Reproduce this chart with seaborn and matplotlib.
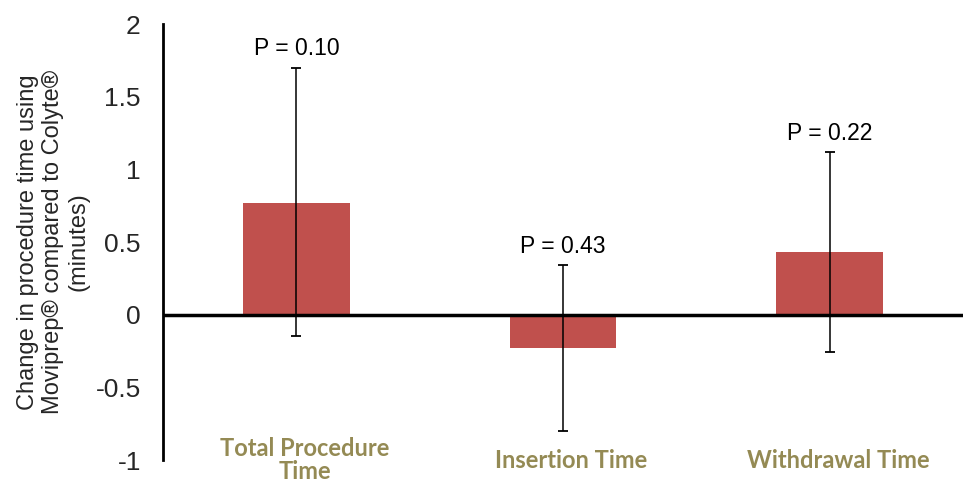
import matplotlib
matplotlib.use("Agg")
import matplotlib.pyplot as plt
import seaborn as sns
import pandas as pd
import numpy as np

categories = ["Total Procedure\nTime", "Insertion Time", "Withdrawal Time"]
mean_change = [0.77, -0.23, 0.43]
ci_lower = [-0.15, -0.80, -0.26]
ci_upper = [1.70, 0.34, 1.12]
p_labels = ["P = 0.10", "P = 0.43", "P = 0.22"]
y_ticks = [-1, -0.5, 0, 0.5, 1, 1.5, 2]
y_tick_labels = ["-1", "-0.5", "0", "0.5", "1", "1.5", "2"]
y_label = "Change in procedure time using\nMoviprep® compared to Colyte®\n(minutes)"

sns.set_style("white")
plt.rcParams['font.family'] = ['Liberation Sans', 'DejaVu Sans']

fig = plt.figure(figsize=(9.64, 4.87), dpi=100)
ax = fig.add_axes([163/964, 27/487, 800/964, 436/487])

df = pd.DataFrame({"cat": categories, "val": mean_change})
sns.barplot(data=df, x="cat", y="val", color="#C0504D", saturation=1,
            width=0.4, ax=ax, errorbar=None, edgecolor="none")

x = np.arange(len(categories))
means = np.array(mean_change)
yerr = [means - np.array(ci_lower), np.array(ci_upper) - means]
ax.errorbar(x, means, yerr=yerr, fmt="none", ecolor="black",
            elinewidth=1.1, capsize=3.5, capthick=1.3, zorder=4)

for xi, top, lab in zip(x, ci_upper, p_labels):
    ax.annotate(lab, (xi, top), xytext=(0, 13.5), textcoords="offset points",
                ha="center", va="center", fontsize=16.5, color="black")

ax.axhline(0, color="black", lw=2.5, zorder=5)

ax.set_xlim(-0.5, 2.5)
ax.set_ylim(-1, 2)
ax.set_yticks(y_ticks)
ax.set_yticklabels(y_tick_labels, fontsize=19)
ax.tick_params(axis="y", direction="out", length=6, width=2, color="black", pad=10)
ax.set_xticks([])
ax.set_xlabel("")
ax.set_ylabel(y_label, fontsize=17, linespacing=1.2)
ax.yaxis.label.set_va("center")
ax.yaxis.set_label_coords(-0.1375, 0.5)

for xi, lab in zip(x, categories):
    ax.annotate(lab, (xi, -1), xytext=(6, 0), textcoords="offset points",
                ha="center", va="center", fontsize=17, color="#948A54",
                fontweight="bold", family=["Lato", "DejaVu Sans"],
                linespacing=1.0, annotation_clip=False)

for s in ["top", "right", "bottom"]:
    ax.spines[s].set_visible(False)
ax.spines["left"].set_color("black")
ax.spines["left"].set_linewidth(2)

fig.savefig("out.png", dpi=100)
